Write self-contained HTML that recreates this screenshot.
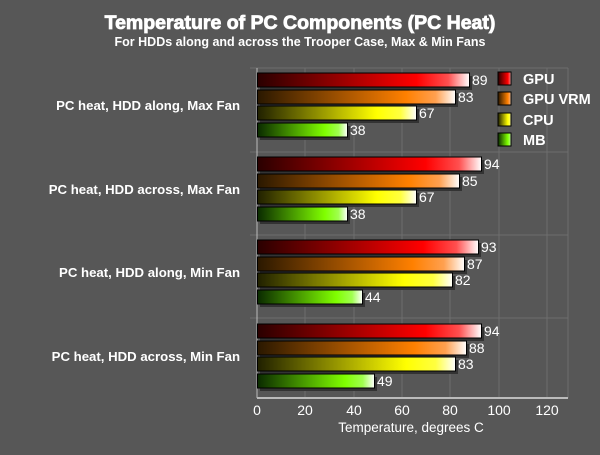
<!DOCTYPE html><html><head><style>body{margin:0;background:#575757}</style></head><body>
<svg width="600" height="450" xmlns="http://www.w3.org/2000/svg" font-family="Liberation Sans, sans-serif">
<defs>
<linearGradient id="g0"><stop offset="0" stop-color="#2a0000"/><stop offset="0.75" stop-color="#ff0000"/><stop offset="0.9" stop-color="#ff5050"/><stop offset="1" stop-color="#fff"/></linearGradient>
<linearGradient id="g1"><stop offset="0" stop-color="#2a1800"/><stop offset="0.75" stop-color="#ff8000"/><stop offset="0.9" stop-color="#ffa050"/><stop offset="1" stop-color="#fff"/></linearGradient>
<linearGradient id="g2"><stop offset="0" stop-color="#202000"/><stop offset="0.75" stop-color="#ffff00"/><stop offset="0.9" stop-color="#ffff40"/><stop offset="1" stop-color="#fff"/></linearGradient>
<linearGradient id="g3"><stop offset="0" stop-color="#0a2a00"/><stop offset="0.75" stop-color="#80ff00"/><stop offset="0.9" stop-color="#a0ff50"/><stop offset="1" stop-color="#fff"/></linearGradient>
</defs>
<rect width="600" height="450" fill="#575757"/>
<text x="300" y="29" text-anchor="middle" fill="#fff" stroke="#fff" stroke-width="0.8" font-weight="bold" font-size="19.5">Temperature of PC Components (PC Heat)</text>
<text x="300" y="46" text-anchor="middle" fill="#fff" font-weight="bold" font-size="12.5">For HDDs along and across the Trooper Case, Max &amp; Min Fans</text>
<g stroke="#6e6e6e" stroke-width="1">
<line x1="305" y1="68" x2="305" y2="398"/><line x1="354" y1="68" x2="354" y2="398"/><line x1="402" y1="68" x2="402" y2="398"/><line x1="450" y1="68" x2="450" y2="398"/><line x1="499" y1="68" x2="499" y2="398"/><line x1="547" y1="68" x2="547" y2="398"/>
<line x1="250" y1="68" x2="568" y2="68"/><line x1="250" y1="152" x2="568" y2="152"/><line x1="250" y1="235" x2="568" y2="235"/><line x1="250" y1="318" x2="568" y2="318"/>
<line x1="568" y1="68" x2="568" y2="398"/>
</g>
<line x1="257" y1="68" x2="257" y2="398" stroke="#bbb"/>
<line x1="257" y1="398" x2="568" y2="398" stroke="#bbb" stroke-width="2"/>
<g fill="#fff" font-size="14" text-anchor="middle">
<text x="257" y="415">0</text><text x="305" y="415">20</text><text x="354" y="415">40</text><text x="402" y="415">60</text><text x="450" y="415">80</text><text x="499" y="415">100</text><text x="547" y="415">120</text>
<text x="411" y="432" font-size="13.5">Temperature, degrees C</text>
</g>
<g fill="#fff" font-size="13.2" font-weight="bold" text-anchor="end">
<text x="240" y="110">PC heat, HDD along, Max Fan</text>
<text x="240" y="194">PC heat, HDD across, Max Fan</text>
<text x="240" y="277">PC heat, HDD along, Min Fan</text>
<text x="240" y="361">PC heat, HDD across, Min Fan</text>
</g>
<g fill="#333">
<rect x="260" y="76" width="212" height="14"/><rect x="260" y="93" width="198" height="14"/><rect x="260" y="109" width="159" height="14"/><rect x="260" y="126" width="90" height="14"/>
<rect x="260" y="160" width="224" height="14"/><rect x="260" y="177" width="202" height="14"/><rect x="260" y="193" width="159" height="14"/><rect x="260" y="210" width="90" height="14"/>
<rect x="260" y="243" width="221" height="14"/><rect x="260" y="260" width="207" height="14"/><rect x="260" y="276" width="195" height="14"/><rect x="260" y="293" width="105" height="14"/>
<rect x="260" y="327" width="224" height="14"/><rect x="260" y="344" width="209" height="14"/><rect x="260" y="360" width="198" height="14"/><rect x="260" y="377" width="117" height="14"/>
</g>
<g stroke="#000">
<rect x="257.5" y="73" width="212" height="14" fill="url(#g0)"/><rect x="257.5" y="90" width="198" height="14" fill="url(#g1)"/><rect x="257.5" y="106" width="159" height="14" fill="url(#g2)"/><rect x="257.5" y="123" width="90" height="14" fill="url(#g3)"/>
<rect x="257.5" y="157" width="224" height="14" fill="url(#g0)"/><rect x="257.5" y="174" width="202" height="14" fill="url(#g1)"/><rect x="257.5" y="190" width="159" height="14" fill="url(#g2)"/><rect x="257.5" y="207" width="90" height="14" fill="url(#g3)"/>
<rect x="257.5" y="240" width="221" height="14" fill="url(#g0)"/><rect x="257.5" y="257" width="207" height="14" fill="url(#g1)"/><rect x="257.5" y="273" width="195" height="14" fill="url(#g2)"/><rect x="257.5" y="290" width="105" height="14" fill="url(#g3)"/>
<rect x="257.5" y="324" width="224" height="14" fill="url(#g0)"/><rect x="257.5" y="341" width="209" height="14" fill="url(#g1)"/><rect x="257.5" y="357" width="198" height="14" fill="url(#g2)"/><rect x="257.5" y="374" width="117" height="14" fill="url(#g3)"/>
</g>
<g fill="#fff" font-size="14">
<text x="472" y="85">89</text><text x="458" y="102">83</text><text x="419" y="118">67</text><text x="350" y="135">38</text>
<text x="484" y="169">94</text><text x="462" y="186">85</text><text x="419" y="202">67</text><text x="350" y="219">38</text>
<text x="481" y="252">93</text><text x="467" y="269">87</text><text x="455" y="285">82</text><text x="365" y="302">44</text>
<text x="484" y="336">94</text><text x="469" y="353">88</text><text x="458" y="369">83</text><text x="377" y="386">49</text>
</g>
<g font-size="14.5" fill="#fff" font-weight="bold">
<rect x="498" y="72" width="13" height="13" fill="url(#g0)" stroke="#000"/><text x="523" y="84">GPU</text>
<rect x="498" y="92" width="13" height="13" fill="url(#g1)" stroke="#000"/><text x="523" y="104">GPU VRM</text>
<rect x="498" y="113" width="13" height="13" fill="url(#g2)" stroke="#000"/><text x="523" y="125">CPU</text>
<rect x="498" y="133" width="13" height="13" fill="url(#g3)" stroke="#000"/><text x="523" y="145">MB</text>
</g>
</svg></body></html>
